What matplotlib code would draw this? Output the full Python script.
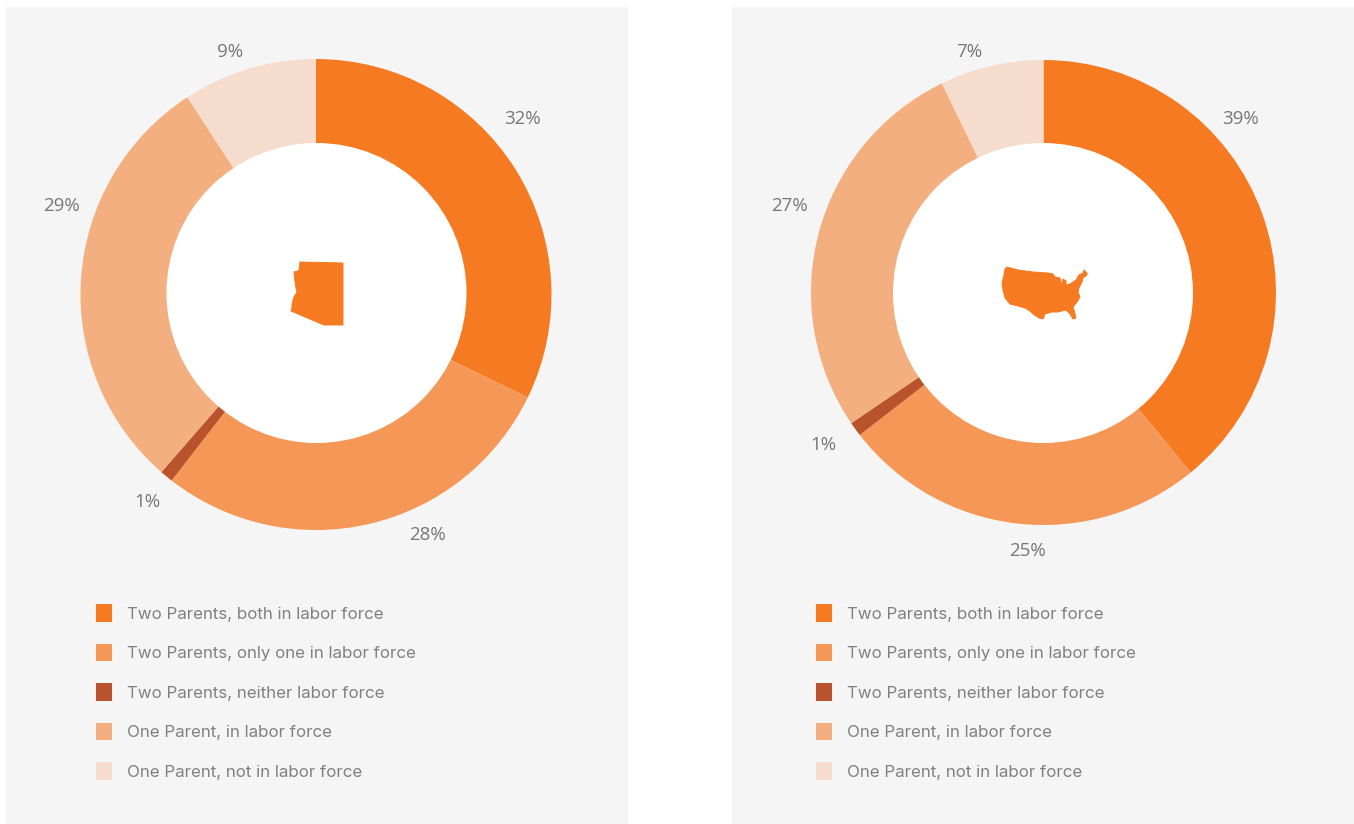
import matplotlib
matplotlib.use('Agg')
import matplotlib.pyplot as plt
from matplotlib.patches import Polygon, Rectangle, Circle

W, H = 1354, 824

categories = ['Two Parents, both in labor force', 'Two Parents, only one in labor force',
              'Two Parents, neither labor force', 'One Parent, in labor force',
              'One Parent, not in labor force']
arizona_values = [32.2, 28.3, 0.9, 29.4, 9.2]
us_values = [39.1, 25.4, 1.0, 27.3, 7.2]
colors = ['#f67a22', '#f59757', '#b9532c', '#f4af80', '#f5dccd']

# where the percent labels sit, in pixels
arizona_label_pos = [(522.5, 119), (427, 535), (147, 502), (61, 206), (230, 52)]
us_label_pos = [(1241, 119), (1027, 551), (823, 445), (790, 206), (969, 52)]

# silhouettes, pixels
arizona_shape = [(300, 262), (343, 263), (343, 325), (324, 325), (291, 311), (292, 308), (292, 305),
                 (293, 300), (294, 297), (297, 292), (296, 288), (295, 282), (294, 272), (298, 271), (299, 270)]
us_shape = [(1007, 267), (1018, 270), (1033, 272), (1048, 273), (1053, 274), (1055, 277), (1060, 278),
            (1061, 285), (1063, 279), (1066, 281), (1066, 285), (1070, 284), (1076, 280), (1079, 275),
            (1083, 273), (1084, 270), (1087, 273), (1087, 275), (1083, 278), (1082, 282), (1079, 288),
            (1078, 292), (1080, 297), (1077, 302), (1073, 307), (1074, 310), (1076, 318), (1073, 319),
            (1070, 314), (1066, 310), (1058, 312), (1052, 312), (1045, 314), (1043, 319), (1039, 318),
            (1033, 314), (1030, 311), (1025, 308), (1018, 306), (1010, 304), (1005, 298), (1003, 290),
            (1002, 283), (1004, 275), (1005, 269)]

plt.rcParams['font.family'] = ['Open Sans', 'DejaVu Sans']

fig = plt.figure(figsize=(W / 100, H / 100), dpi=100, facecolor='white')

# full figure axes in pixel coords for panels, labels and silhouettes
bg = fig.add_axes([0, 0, 1, 1])
bg.set_xlim(0, W)
bg.set_ylim(H, 0)
bg.axis('off')
bg.add_patch(Rectangle((6, 7), 622, 817, color='#f5f5f5', lw=0))
bg.add_patch(Rectangle((732, 7), 622, 817, color='#f5f5f5', lw=0))

# the white hole is not quite centred on the ring in the left chart, so it goes on top
top = fig.add_axes([0, 0, 1, 1])
top.set_xlim(0, W)
top.set_ylim(H, 0)
top.axis('off')
top.set_zorder(3)


def donut(values, cx, cy, r_out, hole, r_in, label_pos, shape, legend_x):
    ax = fig.add_axes([(cx - r_out) / W, 1 - (cy + r_out) / H, 2 * r_out / W, 2 * r_out / H])
    wedges, _ = ax.pie(values, colors=colors, startangle=90, counterclock=False, radius=1,
                       wedgeprops=dict(width=1 - (r_in - 5) / r_out, linewidth=0))
    ax.set_xlim(-1, 1)
    ax.set_ylim(-1, 1)
    ax.patch.set_alpha(0)
    top.add_patch(Circle(hole, r_in, color='white', lw=0))
    top.add_patch(Polygon(shape, closed=True, fc=colors[0], ec=colors[0], lw=0.7, zorder=5))
    for v, (x, y) in zip(values, label_pos):
        top.text(x, y, '%.0f%%' % v, ha='center', va='center', fontsize=13.5, color='#777777')
    fig.legend(wedges, categories, loc='upper left', bbox_to_anchor=(legend_x / W, 1 - 604 / H),
               frameon=False, borderpad=0, borderaxespad=0, handlelength=0.94,
               handleheight=1.25, handletextpad=0.87, labelspacing=1.275,
               labelcolor='#808080', prop=dict(family='Inter', size=12.2))


donut(arizona_values, 316, 294.5, 235.5, (316.5, 293), 150, arizona_label_pos, arizona_shape, 96)
donut(us_values, 1043.5, 292.5, 232.5, (1043, 293), 150, us_label_pos, us_shape, 816)

fig.savefig('out.png', dpi=100)
